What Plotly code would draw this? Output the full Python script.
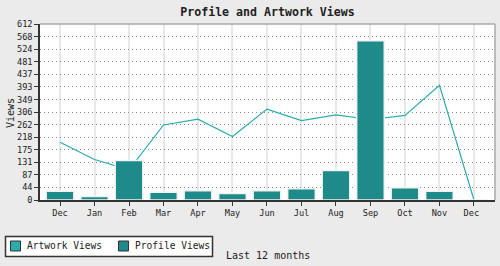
import plotly.graph_objects as go

# ---- data ----
months = ["Dec", "Jan", "Feb", "Mar", "Apr", "May", "Jun", "Jul", "Aug", "Sep", "Oct", "Nov", "Dec "]
profile_views = [30, 12, 137, 27, 32, 23, 32, 39, 103, 554, 43, 30, 0]
artwork_views = [201, 141, 105, 261, 281, 221, 316, 276, 296, 280, 294, 399, 0]
y_tick_labels = ["0", "44", "87", "131", "175", "218", "262", "306", "349", "393",
                 "437", "481", "524", "568", "612"]
y_max = 612

title_text = "Profile and Artwork Views"
x_title = "Last 12 months"
y_title = "Views"
series_names = ["Artwork Views", "Profile Views"]

# ---- styling ----
W, H = 500, 266
L, R, T, B = 40, 5, 24, 66
PW, PH = W - L - R, H - T - B
BAR_COLOR = "#1e8a8a"
LINE_COLOR = "#2aabab"
SWATCH_LIGHT = "#2badad"
MONO = "DejaVu Sans Mono"


def px(xp):
    return (xp - L) / PW


def py(yp):
    return (H - B - yp) / PH


xi = list(range(len(months)))
tickvals_y = [int(v) for v in y_tick_labels]

fig = go.Figure()

# line on primary axis (drawn beneath bars)
fig.add_trace(go.Scatter(
    x=xi, y=artwork_views, mode="lines", name=series_names[0],
    line=dict(color=LINE_COLOR, width=1.2), showlegend=False,
    xaxis="x", yaxis="y",
))
# bars on overlaying axis so they sit above the line
fig.add_trace(go.Bar(
    x=xi, y=profile_views, name=series_names[1], width=0.8,
    marker=dict(color=BAR_COLOR, line=dict(color="#f2f2f2", width=1.5)),
    showlegend=False, xaxis="x", yaxis="y2",
))

fig.update_layout(
    width=W, height=H,
    margin=dict(l=L, r=R, t=T, b=B),
    paper_bgcolor="#ebebeb",
    plot_bgcolor="#ffffff",
    barmode="overlay",
    showlegend=False,
    font=dict(family=MONO, color="#222", size=9),
    title=dict(text=title_text, x=0.5, xref="paper", xanchor="center",
               y=1 - 12 / H, yref="container", yanchor="middle",
               font=dict(family=MONO, size=11.6, color="#222", weight="bold")),
    xaxis=dict(
        range=[-0.58, 12.61], tickmode="array", tickvals=xi, ticktext=months,
        showgrid=True, gridcolor="#e8e8e8", gridwidth=1.5,
        showline=True, linecolor="#333", linewidth=1.5,
        ticks="outside", ticklen=4, tickcolor="#333", tickwidth=1,
        tickfont=dict(family=MONO, size=8.6, color="#222"),
        zeroline=False, fixedrange=True,
    ),
    yaxis=dict(
        range=[0, y_max], tickmode="array", tickvals=tickvals_y, ticktext=y_tick_labels,
        showgrid=True, gridcolor="#8c8c8c", gridwidth=1, griddash="1px,3px",
        showline=True, linecolor="#333", linewidth=1.5,
        ticks="outside", ticklen=4, tickcolor="#333", tickwidth=1,
        tickfont=dict(family=MONO, size=8.6, color="#222"),
        zeroline=False, fixedrange=True,
    ),
    yaxis2=dict(range=[0, y_max], overlaying="y", visible=False, showgrid=False,
                fixedrange=True),
)

# frame on top and right of plot area
fig.add_shape(type="line", xref="paper", yref="paper", x0=0, x1=1, y0=1, y1=1,
              line=dict(color="#aaaaaa", width=1.5), layer="above")
fig.add_shape(type="line", xref="paper", yref="paper", x0=1, x1=1, y0=0, y1=1,
              line=dict(color="#aaaaaa", width=1.5), layer="above")

# axis titles
fig.add_annotation(text=y_title, xref="paper", yref="paper", x=px(11), y=py(113),
                   textangle=-90, showarrow=False, xanchor="center", yanchor="middle",
                   font=dict(family=MONO, size=10, color="#222"))
fig.add_annotation(text=x_title, xref="paper", yref="paper", x=px(224), y=py(255),
                   showarrow=False, xanchor="left", yanchor="middle",
                   font=dict(family=MONO, size=10, color="#222"))

# custom legend box
fig.add_shape(type="rect", xref="paper", yref="paper",
              x0=px(5.5), x1=px(212.5), y0=py(236.5), y1=py(256.5),
              fillcolor="#ffffff", line=dict(color="#333", width=1.5), layer="above")
legend_items = [(series_names[0], SWATCH_LIGHT, 10.5, 24.5),
                (series_names[1], BAR_COLOR, 118.5, 132.5)]
for name, col, sx, tx in legend_items:
    fig.add_shape(type="rect", xref="paper", yref="paper",
                  x0=px(sx), x1=px(sx + 10), y0=py(241), y1=py(251),
                  fillcolor=col, line=dict(color="#333", width=1), layer="above")
    fig.add_annotation(text=name, xref="paper", yref="paper", x=px(tx), y=py(246),
                       showarrow=False, xanchor="left", yanchor="middle",
                       font=dict(family=MONO, size=9.6, color="#222"))

fig.write_html("out.html")
